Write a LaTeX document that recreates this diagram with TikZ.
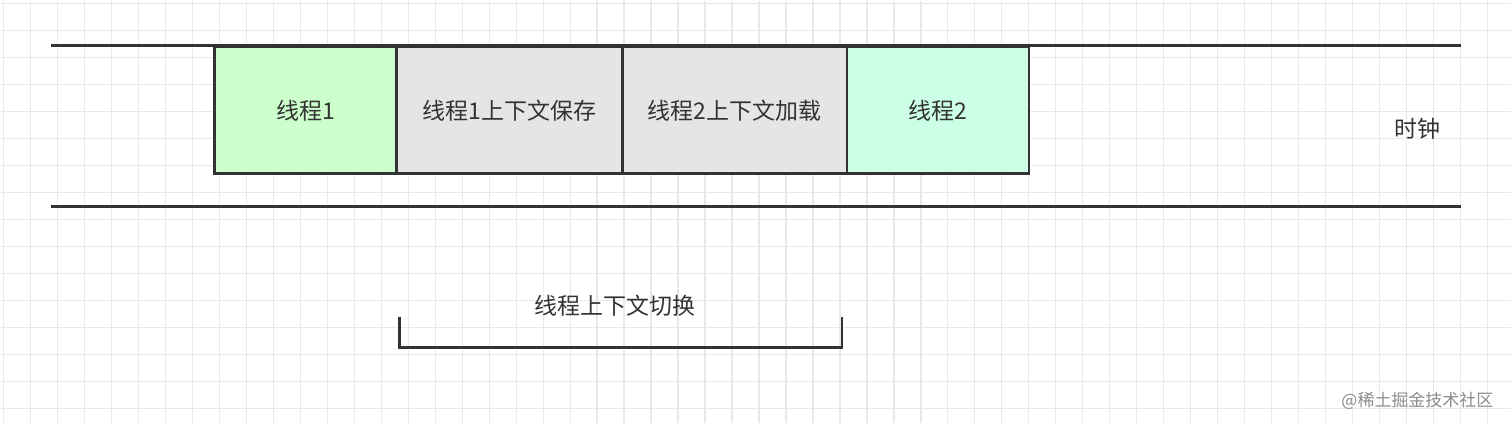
\documentclass[tikz,border=0pt]{standalone}
\usepackage{fontspec}
\newfontfamily\cjk{Noto Sans CJK SC}
\begin{document}
\begin{tikzpicture}[x=1pt,y=-1pt,
  box/.style={draw=black!80,line width=2.5pt,minimum width=#1,minimum height=127pt,inner sep=0pt,anchor=north west,font=\cjk\fontsize{23}{27}\selectfont,text=black!80},
  lbl/.style={font=\cjk\fontsize{23}{27}\selectfont,text=black!80},
  ln/.style={draw=black!80,line width=2.5pt}]
\fill[white] (0,0) rectangle (1512,423);
\foreach \x in {3,30,...,1512} \draw[black!9,line width=1.3pt] (\x,0) -- (\x,423);
\foreach \y in {3,30,...,423} \draw[black!9,line width=1.3pt] (0,\y) -- (1512,\y);
\useasboundingbox (0,0) rectangle (1512,423);
\coordinate (tl) at (50,45); \coordinate (tr) at (1462,45);
\coordinate (bl) at (50,206); \coordinate (br) at (1462,206);
\draw[ln] (tl) -- (tr);
\draw[ln] (bl) -- (br);
\node[box=182pt,fill={rgb,255:red,204;green,255;blue,204}] (t1) at (213,45) {线程1};
\node[box=226pt,fill=black!10] (s1) at (395,45) {线程1上下文保存};
\node[box=225pt,fill=black!10] (l2) at (621,45) {线程2上下文加载};
\node[box=182pt,fill={rgb,255:red,204;green,255;blue,230}] (t2) at (846,45) {线程2};
\node[lbl] (clk) at (1418,128) {时钟};
\node[lbl] (sw) at (615,305) {线程上下文切换};
\coordinate (a) at (399,317); \coordinate (b) at (399,347);
\coordinate (c) at (842,347); \coordinate (d) at (842,317);
\draw[ln] (a) -- (b) -- (c) -- (d);
\node[font=\cjk\fontsize{17}{20}\selectfont,text=black!45] (wm) at (1418,400) {@稀土掘金技术社区};
\end{tikzpicture}
\end{document}
